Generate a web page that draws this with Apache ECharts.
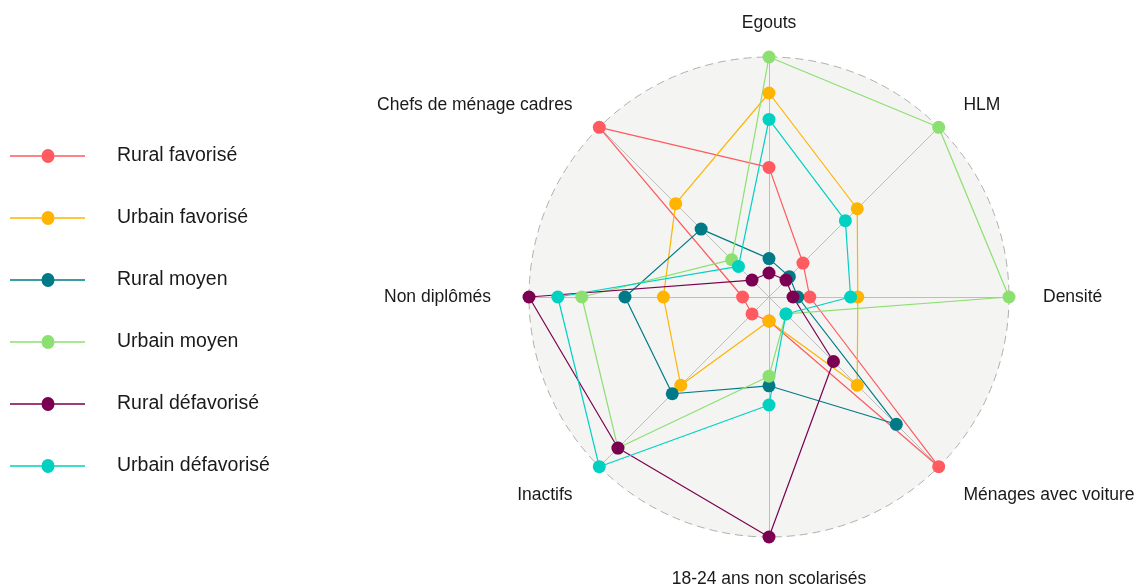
<!DOCTYPE html>
<html>
<head>
<meta charset="utf-8">
<script src="https://cdn.jsdelivr.net/npm/echarts@6/dist/echarts.min.js"></script>
<style>
html,body{margin:0;padding:0;background:#fff;}
#chart{width:1138px;height:584px;}
</style>
</head>
<body>
<div id="chart"></div>
<script>
// Indicators in ECharts order (counter-clockwise from top)
const indicators = ['Egouts', 'Chefs de ménage cadres', 'Non diplômés', 'Inactifs',
  '18-24 ans non scolarisés', 'Ménages avec voiture', 'Densité', 'HLM'];

const seriesNames = ['Rural favorisé', 'Urbain favorisé', 'Rural moyen',
  'Urbain moyen', 'Rural défavorisé', 'Urbain défavorisé'];

const colors = ['#FF5A5F', '#FFB400', '#007A87', '#8CE071', '#7B0051', '#00D1C1'];

const ruralFavorise     = [0.54, 1.00, 0.11, 0.10, 0.10, 1.00, 0.17, 0.20];
const urbainFavorise    = [0.85, 0.55, 0.44, 0.52, 0.10, 0.52, 0.37, 0.52];
const ruralMoyen        = [0.16, 0.40, 0.60, 0.57, 0.37, 0.75, 0.12, 0.12];
const urbainMoyen       = [1.00, 0.22, 0.78, 0.89, 0.33, 0.10, 1.00, 1.00];
const ruralDefavorise   = [0.10, 0.10, 1.00, 0.89, 1.00, 0.38, 0.10, 0.10];
const urbainDefavorise  = [0.74, 0.18, 0.88, 1.00, 0.45, 0.10, 0.34, 0.45];

const allValues = [ruralFavorise, urbainFavorise, ruralMoyen, urbainMoyen, ruralDefavorise, urbainDefavorise];

const chart = echarts.init(document.getElementById('chart'), null, {renderer: 'canvas'});

const legendIcon = 'path://M0,6.3 L75,6.3 L75,7.7 L0,7.7 Z M31.5,7 A6.5,6.5 0 1,1 44.5,7 A6.5,6.5 0 1,1 31.5,7 Z';

const nameFont = {
  color: '#1a1a1a',
  fontSize: 17.5,
  fontFamily: 'Liberation Sans, Arial, sans-serif'
};
// per-label offsets (padding [top, right, bottom, left])
const namePads = [
  [0, 0, 0, 0],
  [0, 9, 9, 0],
  [0, 13, 0, 0],
  [21, 9, 0, 0],
  [8, 0, 0, 0],
  [21, 0, 0, 7],
  [0, 0, 0, 9],
  [0, 0, 9, 7]
];
const rich = {};
namePads.forEach((p, i) => { rich['n' + i] = Object.assign({padding: p}, nameFont); });

const option = {
  animation: false,
  backgroundColor: '#ffffff',
  color: colors,
  legend: {
    orient: 'vertical',
    left: 10,
    top: 146,
    padding: 0,
    itemWidth: 75,
    itemHeight: 14,
    itemGap: 42,
    icon: legendIcon,
    symbolKeepAspect: false,
    data: seriesNames,
    textStyle: {
      fontFamily: 'Liberation Sans, Arial, sans-serif',
      fontSize: 19.5,
      color: '#1a1a1a',
      lineHeight: 20,
      padding: [0, 0, 0, 27]
    }
  },
  radar: {
    center: [769, 297],
    radius: 240,
    startAngle: 90,
    shape: 'circle',
    splitNumber: 1,
    nameGap: 25,
    indicator: indicators.map(n => ({name: n, min: 0, max: 1})),
    axisName: Object.assign({
      formatter: function (name) {
        const i = indicators.indexOf(name);
        return '{n' + i + '|' + name + '}';
      },
      rich: rich
    }, nameFont),
    splitLine: {lineStyle: {color: '#b0b0b0', type: [8, 5], width: 1}},
    splitArea: {show: true, areaStyle: {color: ['#f4f4f2']}},
    axisLine: {lineStyle: {color: '#bdbdbd', width: 1}}
  },
  series: seriesNames.map((name, i) => ({
    type: 'radar',
    name: name,
    symbol: 'circle',
    symbolSize: 13,
    lineStyle: {width: 1.2, color: colors[i]},
    itemStyle: {color: colors[i]},
    data: [{name: name, value: allValues[i]}]
  }))
};

chart.setOption(option);
</script>
</body>
</html>
